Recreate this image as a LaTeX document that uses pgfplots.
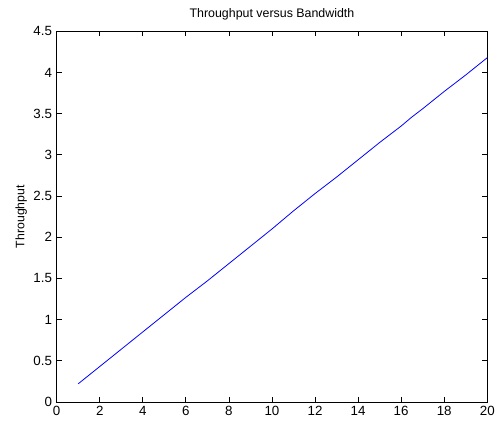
\documentclass[border=0pt]{standalone}
\usepackage{fontspec}
\setmainfont{Liberation Sans}
\usepackage{pgfplots}
\pgfplotsset{compat=1.18}

\begin{document}
\begin{tikzpicture}
\begin{axis}[name=ax,scale only axis,width=323pt,height=278pt,
  xmin=0,xmax=20,ymin=0,ymax=4.5,
  xtick={0,2,...,20},ytick={0,0.5,...,4.5},
  tick align=inside,major tick length=3.8pt,
  xtick pos=both,ytick pos=both,
  axis line style={black,line width=0.6pt},
  tick style={black,line width=0.6pt},
  /pgf/number format/assume math mode=true,
  ticklabel style={font=\fontsize{10}{12}\selectfont},
  title={Throughput versus Bandwidth},
  title style={font=\fontsize{9.3}{11}\selectfont,yshift=-1pt},
  ylabel={Throughput},
  ylabel style={font=\fontsize{9.2}{11}\selectfont,yshift=-2pt}]
\addplot[blue,line width=0.6pt,mark=none] coordinates {
(1,0.22) (2,0.43) (3,0.64) (4,0.85) (5,1.06) (6,1.27) (6.5,1.37) (7,1.47)
(8,1.68) (9,1.89) (10,2.10) (11,2.32) (12,2.53) (12.6,2.65) (13,2.73)
(14,2.94) (15,3.15) (16,3.35) (16.5,3.46) (17,3.56) (18,3.77) (19,3.97) (20,4.18)};
\end{axis}
\path[use as bounding box] ([xshift=-42.5pt,yshift=-15.5pt]ax.south west)
  rectangle ([xshift=10.3pt,yshift=23.5pt]ax.north east);
\end{tikzpicture}
\end{document}
